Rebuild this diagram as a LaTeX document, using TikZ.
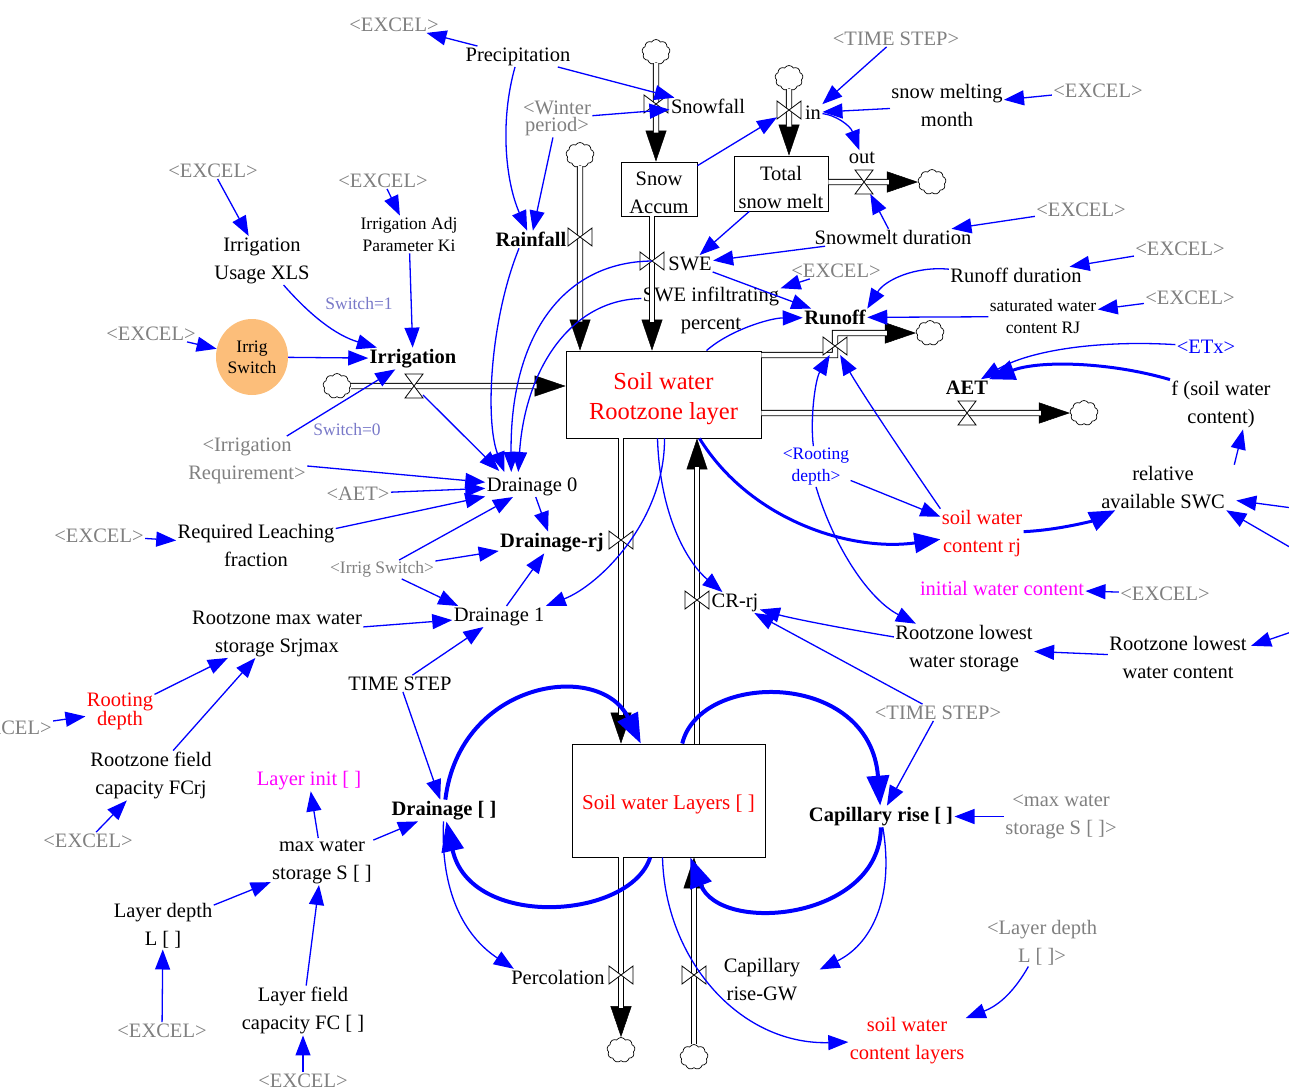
\documentclass[tikz,border=0pt]{standalone}
\usepackage{fontspec}
\setmainfont{Liberation Serif}
\usetikzlibrary{arrows.meta,shapes.geometric,shapes.symbols}

\definecolor{linkblue}{RGB}{0,0,255}
\definecolor{shadowgray}{RGB}{128,128,128}
\definecolor{switchlav}{RGB}{120,120,200}
\definecolor{stockred}{RGB}{255,0,0}
\definecolor{initmag}{RGB}{255,0,255}
\definecolor{switchfill}{RGB}{252,190,122}

\newcommand\fsz[2]{\fontsize{#1}{#2}\selectfont}
% valve on a vertical pipe (bow tie with vertical sides)
\newcommand\valveV[1]{\filldraw[fill=white,draw=black,line width=0.8pt] (#1.north west) -- (#1.south west) -- (#1.north east) -- (#1.south east) -- cycle;}
% valve on a horizontal pipe (hourglass)
\newcommand\valveH[1]{\filldraw[fill=white,draw=black,line width=0.8pt] (#1.north west) -- (#1.north east) -- (#1.south west) -- (#1.south east) -- cycle;}

\begin{document}
\begin{tikzpicture}[x=1pt,y=-1pt,
  base/.style={inner sep=1.5pt, outer sep=0pt, align=center, yshift=-2.5pt},
  var/.style={base, font=\fsz{20.5}{28}},
  varb/.style={base, font=\fsz{20.5}{28}\bfseries},
  sml/.style={base, font=\fsz{17.5}{22.5}},
  shd/.style={var, text=shadowgray},
  stock/.style={draw=black, line width=0.9pt, fill=white, inner sep=0pt},
  stocktext/.style={base, yshift=-1.5pt},
  vval/.style={inner sep=0pt, outer sep=0pt, minimum width=24pt, minimum height=18pt},
  hval/.style={inner sep=0pt, outer sep=0pt, minimum width=18pt, minimum height=24pt},
  cloudnode/.style={cloud, cloud puffs=9, cloud puff arc=120, aspect=1.1, draw=black, line width=0.7pt, fill=white, minimum width=28pt, minimum height=25pt, inner sep=0pt},
  pipetip/.style={draw=black, line width=0.5pt, -{Triangle[length=31pt,width=21pt]}},
  pipeline/.style={draw=black, line width=0.9pt, double=white, double distance=4.5pt, shorten >=29pt},
  link/.style={draw=linkblue, line width=1.3pt, -{Triangle[length=20pt,width=15pt,fill=linkblue]}},
  mid/.style={draw=linkblue, line width=3pt, -{Triangle[length=26pt,width=20pt,fill=linkblue]}},
  hvy/.style={draw=linkblue, line width=4pt, -{Triangle[length=30pt,width=22pt,fill=linkblue]}},
]
\useasboundingbox (0,0) rectangle (1289,1087);
\clip (0,0) rectangle (1289,1087);

% ---------- stocks ----------
\node[stock, minimum width=76pt, minimum height=54pt] (snow) at (659,189) {};
\node[stocktext, font=\fsz{20.5}{28}] (snowT) at (snow) {Snow\\Accum};
\node[stock, minimum width=94pt, minimum height=55pt] (melt) at (781,183.5) {};
\node[stocktext, font=\fsz{20.5}{28}] (meltT) at (melt) {Total\\snow melt};
\node[stock, minimum width=195pt, minimum height=87pt] (swr) at (663.5,394.5) {};
\node[stocktext, text=stockred, font=\fsz{24.5}{29.5}] (swrT) at (swr) {Soil water\\Rootzone layer};
\node[stock, minimum width=193pt, minimum height=113pt] (swl) at (668.5,800.5) {};
\node[stocktext, text=stockred, font=\fsz{21}{26}] (swlT) at (swl) {Soil water Layers [ ]};

% ---------- sources and sinks ----------
\node[cloudnode] (cSnow) at (656,52) {};
\node[cloudnode] (cIn) at (789,78) {};
\node[cloudnode] (cOut) at (932,182) {};
\node[cloudnode] (cRain) at (580,155) {};
\node[cloudnode] (cIrr) at (337,386) {};
\node[cloudnode] (cRun) at (930,333) {};
\node[cloudnode] (cAET) at (1084,413) {};
\node[cloudnode] (cPerc) at (621,1050) {};
\node[cloudnode] (cCap) at (694,1057) {};

% ---------- valves ----------
\node[vval] (vSnow) at (656,104) {};
\node[vval] (vIn) at (789,110) {};
\node[hval] (vOut) at (864,182) {};
\node[vval] (vRain) at (580,237) {};
\node[vval] (vSWE) at (652,261) {};
\node[hval] (vIrr) at (414,386) {};
\node[vval] (vRun) at (835,346) {};
\node[hval] (vAET) at (967,413) {};
\node[vval] (vDrj) at (621,540) {};
\node[vval] (vCRrj) at (697,600) {};
\node[vval] (vPerc) at (621,975) {};
\node[vval] (vCap) at (694,975) {};
\coordinate (runA) at (835,355);

% ---------- variables ----------
\node[shd] (exPrec) at (394,22) {<EXCEL>};
\node[var] (prec) at (518,54) {Precipitation};
\node[shd] (tsTop) at (896,36) {<TIME STEP>};
\node[var] (snowfallL) at (708,104) {Snowfall};
\node[var] (inL) at (813,110) {in};
\node[var] (smm) at (947,103) {snow melting\\month};
\node[shd] (exSmm) at (1098,88) {<EXCEL>};
\node[shd, font=\fsz{20.5}{17}] (winter) at (557,116) {<Winter\\period>};
\node[var] (outL) at (862,155) {out};
\node[shd] (exIU) at (213,168) {<EXCEL>};
\node[shd] (exIA) at (383,178) {<EXCEL>};
\node[var] (iu) at (262,258) {Irrigation\\Usage XLS};
\node[sml] (ia) at (409,232) {Irrigation Adj\\Parameter Ki};
\node[varb] (rain) at (531,237) {Rainfall};
\node[var] (sweL) at (690,261) {SWE};
\node[var] (smd) at (893,235) {Snowmelt duration};
\node[shd] (exSmd) at (1081,207) {<EXCEL>};
\node[shd] (exRd) at (1180,246) {<EXCEL>};
\node[var] (rd) at (1016,273) {Runoff duration};
\node[shd] (exSwi) at (836,268) {<EXCEL>};
\node[var] (swi) at (711,308) {SWE infiltrating\\percent};
\node[varb] (runoff) at (835,315) {Runoff};
\node[sml] (sat) at (1043,314) {saturated water\\content RJ};
\node[shd] (exSat) at (1190,295) {<EXCEL>};
\node[sml, text=switchlav] (sw1) at (359,301) {Switch=1};
\node[shd] (exIS) at (151,331) {<EXCEL>};
\node[ellipse, fill=switchfill, minimum width=72pt, minimum height=76pt, inner sep=0pt, align=center, font=\fsz{17.5}{21}] (isw) at (252,357) {Irrig\\Switch};
\node[varb] (irr) at (413,356) {Irrigation};
\node[var, text=linkblue] (etx) at (1206,344) {<ETx>};
\node[varb] (aet) at (967,385) {AET};
\node[var] (fswc) at (1221,402) {f (soil water\\content)};
\node[sml, text=switchlav] (sw0) at (347,427) {Switch=0};
\node[shd] (irq) at (247,458) {<Irrigation\\Requirement>};
\node[sml, text=linkblue] (rdep) at (816,464) {<Rooting\\depth>};
\node[var] (rasw) at (1163,485) {relative\\available SWC};
\node[shd] (aetS) at (358,491) {<AET>};
\node[var] (d0) at (532,484) {Drainage 0};
\node[shd] (exRLF) at (99,533) {<EXCEL>};
\node[var] (rlf) at (256,543) {Required Leaching\\fraction};
\node[var, text=stockred] (swcrj) at (982,531) {soil water\\content rj};
\node[varb] (drj) at (552,540) {Drainage-rj};
\node[sml, text=shadowgray] (isS) at (382,567) {<Irrig Switch>};
\node[var, text=initmag] (iwc) at (1002,586) {initial water content};
\node[shd] (exIwc) at (1165,591) {<EXCEL>};
\node[var] (crrj) at (735,600) {CR-rj};
\node[var] (rmax) at (277,631) {Rootzone max water\\storage Srjmax};
\node[var] (d1) at (499,614) {Drainage 1};
\node[var] (rlws) at (964,646) {Rootzone lowest\\water storage};
\node[var] (rlwc) at (1178,655) {Rootzone lowest\\water content};
\node[var] (ts) at (400,681) {TIME STEP};
\node[var, text=stockred, font=\fsz{20.5}{18}] (rootd) at (120,709) {Rooting\\depth};
\node[shd] (exRootd) at (7,725) {<EXCEL>};
\node[shd] (tsG) at (938,710) {<TIME STEP>};
\node[var] (rfc) at (151,773) {Rootzone field\\capacity FCrj};
\node[var, text=initmag] (linit) at (309,778) {Layer init [ ]};
\node[varb] (dr) at (444,808) {Drainage [ ]};
\node[varb] (cr) at (881,814) {Capillary rise [ ]};
\node[shd] (mwsS) at (1061,814) {<max water\\storage S [ ]>};
\node[shd] (exRfc) at (88,838) {<EXCEL>};
\node[var] (mws) at (322,859) {max water\\storage S [ ]};
\node[var] (ld) at (163,923) {Layer depth\\L [ ]};
\node[shd] (ldS) at (1042,940) {<Layer depth\\L [ ]>};
\node[var] (percL) at (558,975) {Percolation};
\node[var] (crgw) at (762,977) {Capillary\\rise-GW};
\node[var] (lfc) at (303,1008) {Layer field\\capacity FC [ ]};
\node[shd] (exLd) at (162,1028) {<EXCEL>};
\node[var, text=stockred] (swcl) at (907,1038) {soil water\\content layers};
\node[shd] (exLfc) at (303,1078) {<EXCEL>};

\coordinate (eR1) at (1300,509);
\coordinate (eR2) at (1300,553);
\coordinate (eR3) at (1300,629);

% ---------- pipes ----------
\draw[pipetip] (cSnow) -- (cSnow |- snow.north);
\draw[pipeline] (cSnow) -- (cSnow |- snow.north);
\draw[pipetip] (cIn) -- (cIn |- melt.north);
\draw[pipeline] (cIn) -- (cIn |- melt.north);
\draw[pipetip] (melt.east |- vOut) -- (cOut);
\draw[pipeline] (melt.east |- vOut) -- (cOut);
\draw[pipetip] (cRain) -- (cRain |- swr.north);
\draw[pipeline] (cRain) -- (cRain |- swr.north);
\draw[pipetip] (vSWE |- snow.south) -- (vSWE |- swr.north);
\draw[pipeline] (vSWE |- snow.south) -- (vSWE |- swr.north);
\draw[pipetip] (cIrr) -- (swr.west |- vIrr);
\draw[pipeline] (cIrr) -- (swr.west |- vIrr);
\draw[pipetip] (swr.east |- runA) -- (runA) -- (runA |- cRun) -- (cRun);
\draw[pipeline] (swr.east |- runA) -- (runA) -- (runA |- cRun) -- (cRun);
\draw[pipetip] (swr.east |- vAET) -- (cAET);
\draw[pipeline] (swr.east |- vAET) -- (cAET);
\draw[pipetip] (vDrj |- swr.south) -- (vDrj |- swl.north);
\draw[pipeline] (vDrj |- swr.south) -- (vDrj |- swl.north);
\draw[pipetip] (vCRrj |- swl.north) -- (vCRrj |- swr.south);
\draw[pipeline] (vCRrj |- swl.north) -- (vCRrj |- swr.south);
\draw[pipetip] (vPerc |- swl.south) -- (cPerc);
\draw[pipeline] (vPerc |- swl.south) -- (cPerc);
\draw[pipetip] (cCap) -- (vCap |- swl.south);
\draw[pipeline] (cCap) -- (vCap |- swl.south);

\valveV{vSnow}
\valveV{vIn}
\valveH{vOut}
\valveV{vRain}
\valveV{vSWE}
\valveH{vIrr}
\valveV{vRun}
\valveH{vAET}
\valveV{vDrj}
\valveV{vCRrj}
\valveV{vPerc}
\valveV{vCap}

% ---------- connectors: snow and runoff ----------
\draw[link] (prec) -- (exPrec);
\draw[link] (prec) -- (snowfallL);
\draw[link] (winter) -- (snowfallL);
\draw[link] (winter) -- (rain);
\draw[link] (prec) .. controls (500,120) and (505,180) .. (rain);
\draw[link] (snow) -- (vIn);
\draw[link] (tsTop) -- (inL);
\draw[link] (smm) -- (inL);
\draw[link] (inL) .. controls (835,115) and (850,125) .. (outL);
\draw[link] (exSmm) -- (smm);
\draw[link] (smd) -- (vOut);
\draw[link] (exSmd) -- (smd);
\draw[link] (smd) -- (sweL);
\draw[link] (melt) -- (sweL);
\draw[link] (exRd) -- (rd);
\draw[link] (rd) .. controls (915,266) and (885,280) .. (runoff.north east);
\draw[link] (exSwi) -- (swi);
\draw[link] (sweL) -- (runoff);
\draw[link] ([xshift=43pt]swr.north) .. controls (730,330) and (770,318) .. (runoff);
\draw[link] (sat) -- (runoff);
\draw[link] (exSat) -- (sat);
\draw[link] (rdep) .. controls (810,420) and (815,380) .. (vRun);
\draw[link] (swcrj.north west) .. controls (900,450) and (860,390) .. (vRun);

% ---------- connectors: evapotranspiration and root zone ----------
\draw[link] (etx) .. controls (1100,340) and (1030,350) .. (aet);
\draw[mid] (fswc.north west) .. controls (1110,362) and (1040,360) .. (aet);
\draw[link] ([xshift=8pt]rasw.north east) -- ([xshift=22pt]fswc.south);
\draw[mid] (swcrj) .. controls (1060,530) and (1095,520) .. (rasw);
\draw[link] (eR1) -- ([xshift=10pt,yshift=-13pt]rasw.east);
\draw[link] (eR2) -- (rasw.south east);
\draw[link] (exIwc) -- (iwc);
\draw[mid] ([xshift=36pt]swr.south) .. controls (750,520) and (850,552) .. (swcrj);
\draw[link] (rdep) -- (swcrj);
\draw[link] (rdep.south) .. controls (835,550) and (870,600) .. (rlws);
\draw[link] (rlwc) -- (rlws);
\draw[link] (eR3) -- ([xshift=3pt,yshift=-11pt]rlwc.north east);
\draw[link] (rlws) .. controls (840,628) and (790,618) .. (crrj);
\draw[link] (tsG) -- (crrj);
\draw[link] ([xshift=-6pt]swr.south) .. controls (660,520) and (690,565) .. (crrj);
\draw[link] ([xshift=1pt]swr.south) .. controls (665,520) and (600,585) .. (d1.north east);

% ---------- connectors: irrigation and drainage ----------
\draw[link] (exIU) -- (iu);
\draw[link] (exIA) -- (ia);
\draw[link] (iu) .. controls (310,315) and (335,335) .. (irr);
\draw[link] (ia) -- (irr);
\draw[link] (exIS) -- (isw);
\draw[link] (isw) -- (irr);
\draw[link] (irq) -- (irr);
\draw[link] (vIrr) -- ([xshift=14pt,yshift=5pt]d0.north west);
\draw[link] ([xshift=-12pt]rain.south) .. controls (490,320) and (485,420) .. ([xshift=19pt,yshift=4pt]d0.north west);
\draw[link] (vSWE.center) .. controls (560,262) and (510,340) .. ([xshift=26pt,yshift=4pt]d0.north west);
\draw[link] ([yshift=12pt]swi.west) .. controls (570,300) and (525,370) .. ([xshift=33pt,yshift=4pt]d0.north west);
\draw[link] (irq) -- (d0);
\draw[link] (aetS) -- (d0);
\draw[link] (rlf) -- (d0);
\draw[link] (exRLF) -- (rlf);
\draw[link] (isS) -- (d0);
\draw[link] (isS) -- (drj);
\draw[link] (isS) -- ([xshift=6pt]d1.north west);
\draw[link] (d0) -- (drj);
\draw[link] (d1) -- (drj);
\draw[link] (rmax) -- (d1);
\draw[link] (ts) -- (d1);
\draw[link] (rootd) -- (rmax);
\draw[link] (rfc) -- (rmax);
\draw[link] (exRootd) -- (rootd);
\draw[link] (exRfc) -- (rfc);
\draw[link] (ts) -- (dr);
\draw[link] (mws) -- (linit);
\draw[link] (mws) -- (dr);
\draw[link] (ld) -- (mws);
\draw[link] (lfc) -- (mws);
\draw[link] (exLd) -- (ld);
\draw[link] (exLfc) -- (lfc);
\draw[link] (dr) .. controls (440,900) and (470,940) .. ([xshift=4pt]percL.north west);

% ---------- connectors: soil layers ----------
\draw[hvy] (dr) .. controls (460,680) and (600,660) .. (swl);
\draw[hvy] (swl) .. controls (630,920) and (470,930) .. (dr);
\draw[hvy] (swl) .. controls (700,670) and (870,670) .. (cr);
\draw[hvy] (cr) .. controls (880,920) and (720,935) .. (swl);
\draw[link] (tsG) -- (cr);
\draw[link] (mwsS) -- (cr);
\draw[link] (cr) .. controls (895,900) and (870,945) .. ([xshift=18pt,yshift=10pt]crgw.east);
\draw[link] ([xshift=-6pt]swl.south) .. controls (665,960) and (740,1045) .. (swcl);
\draw[link] (ldS) .. controls (1015,990) and (1000,1005) .. (swcl);
\end{tikzpicture}
\end{document}
